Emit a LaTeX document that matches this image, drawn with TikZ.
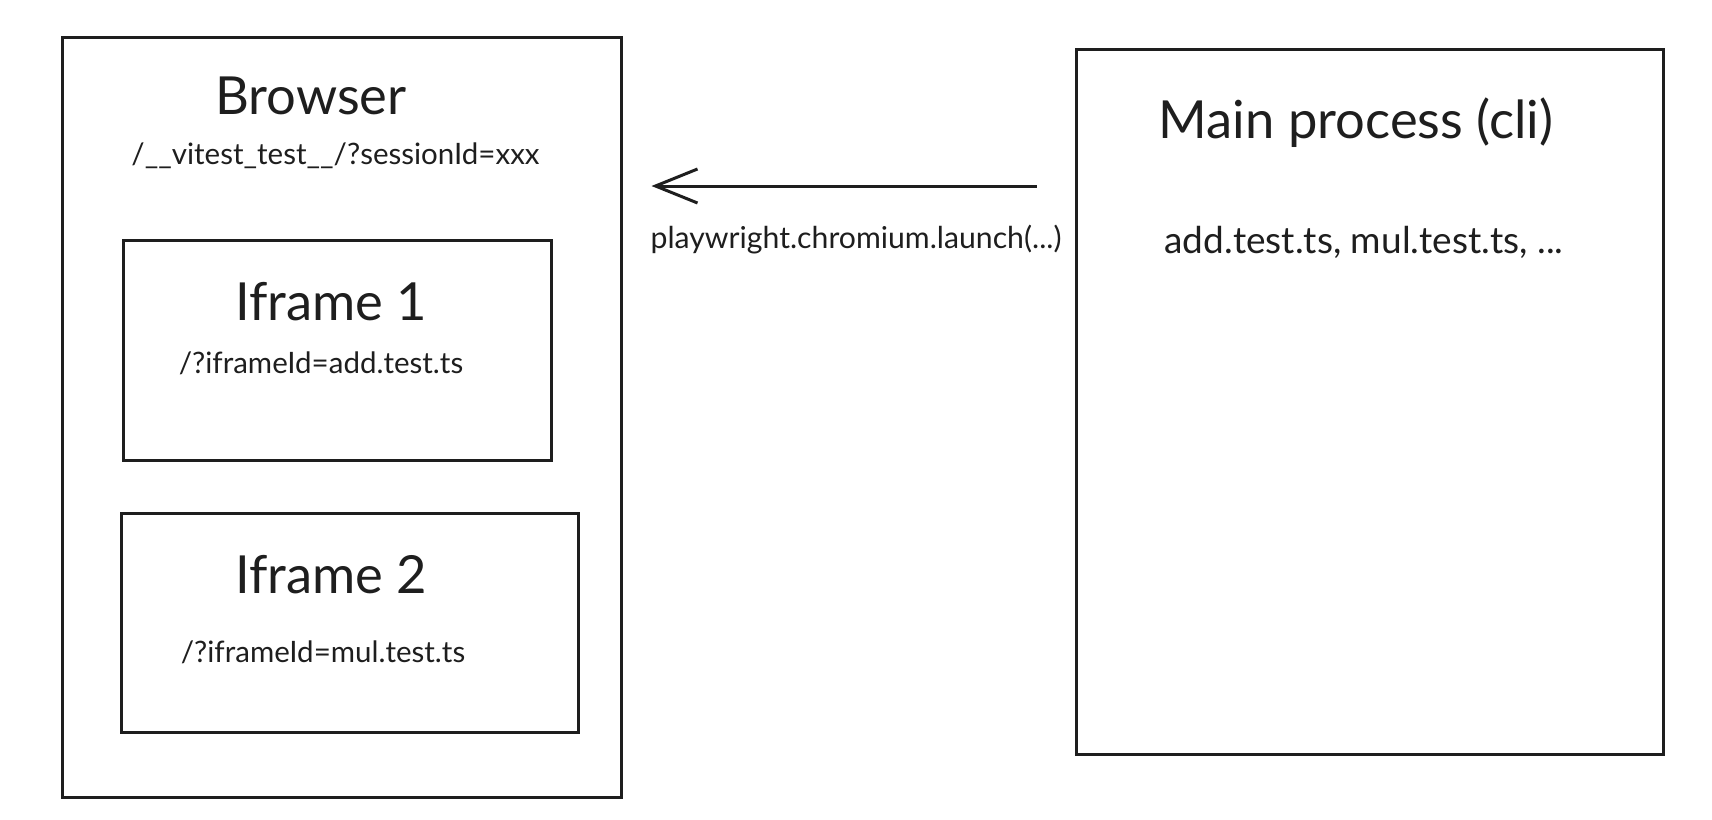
\documentclass[tikz,border=0pt]{standalone}
\usepackage{fontspec}
\setmainfont{Lato}
\usepackage{tikz}
\usetikzlibrary{arrows.meta,positioning}
\definecolor{ink}{HTML}{1E1E1E}

\begin{document}
\begin{tikzpicture}[
    x=1pt, y=-1pt,
    box/.style={rectangle, draw=ink, line width=3pt, inner sep=0pt},
    title/.style={text=ink, font=\fontsize{52.5}{63}\selectfont, inner sep=0pt},
    path/.style={text=ink, font=\fontsize{29.5}{35}\selectfont, inner sep=0pt},
    arrow/.style={-{Straight Barb[length=42pt, width=34pt]}, line width=3pt, draw=ink}
]
    \useasboundingbox (0,0) rectangle (1712,819);

    % boxes
    \node[box, minimum width=559pt, minimum height=760pt] (browser) at (341.5,417.2) {};
    \node[box, minimum width=428pt, minimum height=220pt] (iframeA) at (337.5,350) {};
    \node[box, minimum width=457pt, minimum height=219pt] (iframeB) at (350,622.5) {};
    \node[box, minimum width=587pt, minimum height=705pt] (mainproc) at (1370,401.6) {};

    % texts
    \node[title] (browsertitle) at (311,95.5) {Browser};
    \node[path] (session) at (335.5,156) {/\_\_vitest\_test\_\_/?sessionId=xxx};
    \node[title] (iframeAtitle) at (331,302) {Iframe 1};
    \node[path] (iframeAurl) at (321,363) {/?iframeId=add.test.ts};
    \node[title] (iframeBtitle) at (331,574.5) {Iframe 2};
    \node[path] (iframeBurl) at (323,652) {/?iframeId=mul.test.ts};
    \node[title] (maintitle) at (1356,123) {Main process (cli)};
    \node[path, font=\fontsize{37}{44}\selectfont] (testfiles) at (1364,242.5) {add.test.ts, mul.test.ts, ...};

    \coordinate (launch) at (0,186);
    \draw[arrow, shorten <=38.5pt, shorten >=29pt] (mainproc.west |- launch) -- (browser.east |- launch);
    \node[path, font=\fontsize{30.2}{36}\selectfont] (launchlabel) at (856,240) {playwright.chromium.launch(...)};
\end{tikzpicture}
\end{document}
